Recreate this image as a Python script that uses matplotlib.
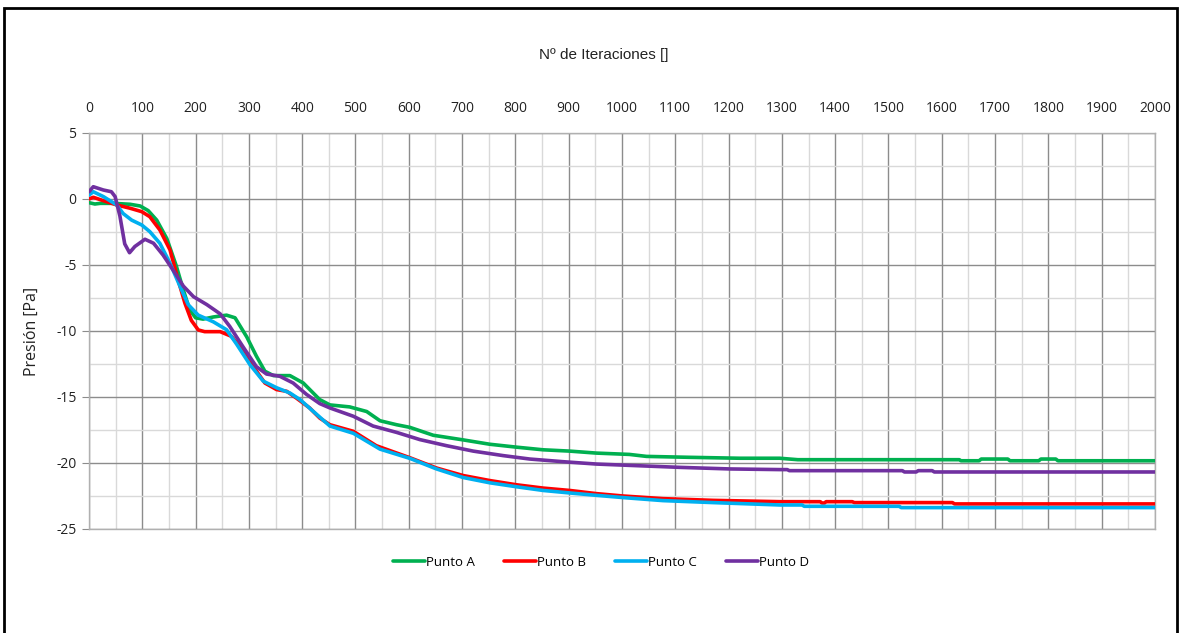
import numpy as np
import matplotlib
matplotlib.use('Agg')
import matplotlib.pyplot as plt
from matplotlib.ticker import MultipleLocator
from matplotlib.patches import Rectangle

# pressure at the four monitor points vs. iteration number
iter_a = [0, 11, 21, 46, 77, 96, 111, 127, 146, 164, 177, 189, 200, 214, 233, 258, 274,
          296, 314, 330, 346, 377, 402, 433, 452, 489, 521, 546, 577, 602, 646, 702, 752,
          802, 852, 902, 952, 1014, 1046, 1127, 1221, 1296, 1330, 1633, 1636, 1670, 1674,
          1724, 1728, 1782, 1786, 1814, 1818, 2000]
pres_a = [-0.28, -0.38, -0.33, -0.33, -0.4, -0.53, -0.88, -1.6, -3.0, -5.1, -6.9, -8.4,
          -9.0, -9.1, -8.94, -8.8, -9.0, -10.45, -11.9, -13.05, -13.38, -13.38, -13.94,
          -15.2, -15.6, -15.75, -16.1, -16.8, -17.1, -17.3, -17.9, -18.25, -18.58, -18.8,
          -19.0, -19.1, -19.25, -19.35, -19.5, -19.57, -19.64, -19.64, -19.75, -19.75,
          -19.83, -19.83, -19.7, -19.7, -19.83, -19.83, -19.7, -19.7, -19.83, -19.83]

iter_b = [0, 8, 27, 52, 77, 99, 114, 133, 152, 167, 180, 192, 205, 217, 246, 267, 283,
          308, 330, 352, 371, 389, 414, 433, 452, 496, 539, 577, 602, 652, 702, 752, 802,
          852, 902, 952, 1002, 1077, 1171, 1296, 1372, 1375, 1380, 1383, 1432, 1436, 1620,
          1624, 2000]
pres_b = [0.0, 0.13, -0.13, -0.45, -0.7, -0.96, -1.34, -2.35, -3.86, -6.1, -7.9, -9.2,
          -9.92, -10.05, -10.05, -10.4, -11.16, -12.68, -13.94, -14.44, -14.57, -15.08,
          -15.83, -16.6, -17.1, -17.6, -18.69, -19.24, -19.6, -20.38, -20.95, -21.33,
          -21.65, -21.9, -22.08, -22.32, -22.5, -22.7, -22.83, -22.93, -22.93, -23.03,
          -23.03, -22.93, -22.93, -23.0, -23.0, -23.1, -23.1]

iter_c = [0, 8, 27, 52, 64, 80, 99, 114, 133, 152, 171, 186, 205, 233, 258, 277, 302,
          327, 352, 377, 396, 421, 452, 496, 546, 602, 652, 702, 752, 802, 852, 902, 952,
          1002, 1077, 1171, 1296, 1338, 1342, 1520, 1524, 2000]
pres_c = [0.3, 0.55, 0.18, -0.45, -1.1, -1.6, -1.97, -2.47, -3.36, -4.87, -6.64, -8.0,
          -8.8, -9.3, -9.9, -11.0, -12.55, -13.8, -14.3, -14.7, -15.2, -16.1, -17.2,
          -17.75, -18.95, -19.65, -20.45, -21.1, -21.5, -21.8, -22.08, -22.27, -22.45,
          -22.62, -22.85, -23.0, -23.18, -23.18, -23.28, -23.28, -23.38, -23.38]

iter_d = [0, 8, 27, 42, 49, 58, 67, 76, 86, 105, 121, 139, 158, 177, 196, 221, 246, 264,
          289, 314, 333, 358, 383, 408, 433, 452, 496, 533, 577, 621, 671, 721, 777, 827,
          889, 952, 1014, 1108, 1202, 1296, 1310, 1314, 1526, 1530, 1552, 1556, 1582, 1586,
          2000]
pres_d = [0.55, 0.93, 0.68, 0.55, 0.18, -1.3, -3.4, -4.07, -3.6, -3.05, -3.35, -4.25,
          -5.4, -6.6, -7.4, -8.0, -8.7, -9.65, -11.2, -12.7, -13.26, -13.43, -13.94, -14.8,
          -15.5, -15.83, -16.46, -17.2, -17.68, -18.23, -18.69, -19.1, -19.44, -19.7,
          -19.9, -20.08, -20.18, -20.33, -20.45, -20.5, -20.5, -20.58, -20.58, -20.68,
          -20.68, -20.58, -20.58, -20.68, -20.68]

labels = ['Punto A', 'Punto B', 'Punto C', 'Punto D']
colors = ['#00B050', '#FF0000', '#00B0F0', '#7030A0']

fig = plt.figure(figsize=(11.79, 6.33), dpi=100)
ax = fig.add_axes([0.0755, 0.1643, 0.9041, 0.6256])

for xs, ys, lab, col in zip([iter_a, iter_b, iter_c, iter_d],
                            [pres_a, pres_b, pres_c, pres_d], labels, colors):
    ax.plot(xs, ys, color=col, lw=2.6, label=lab, solid_capstyle='round',
            solid_joinstyle='round', zorder=3)

ax.set_xlim(0, 2000)
ax.set_ylim(-25, 5)
ax.xaxis.set_major_locator(MultipleLocator(100))
ax.xaxis.set_minor_locator(MultipleLocator(50))
ax.yaxis.set_major_locator(MultipleLocator(5))
ax.yaxis.set_minor_locator(MultipleLocator(2.5))
ax.grid(which='major', color='#8c8c8c', lw=1.0, zorder=1)
ax.grid(which='minor', color='#d9d9d9', lw=1.0, zorder=0)
ax.set_axisbelow(True)

ax.xaxis.tick_top()
ax.tick_params(axis='x', which='both', length=0, pad=12, labelsize=10, labelcolor='#222222')
ax.tick_params(axis='y', which='major', length=5, color='#8c8c8c', pad=4, labelsize=10,
               labelcolor='#222222')
ax.tick_params(axis='y', which='minor', length=0)
for lbl in ax.get_xticklabels() + ax.get_yticklabels():
    lbl.set_family('Open Sans')
ax.yaxis.set_major_formatter(matplotlib.ticker.FuncFormatter(lambda v, p: '%d' % v))

for s in ax.spines.values():
    s.set_color('#b0b0b0')
    s.set_linewidth(1.0)

fig.text(0.512, 0.913, 'Nº de Iteraciones []', ha='center', va='center',
         fontsize=11, family='Liberation Sans', color='#222222')
ax.set_ylabel('Presión [Pa]', fontsize=11.5, family='Open Sans', color='#222222', labelpad=12)

leg = fig.legend(loc='center', bbox_to_anchor=(0.51, 0.112), ncol=4, frameon=False,
                 handlelength=2.4, handletextpad=0.1, columnspacing=2.2,
                 prop={'family': 'Open Sans', 'size': 9.5})

# outer chart frame
fig.patches.append(Rectangle((0.003, -0.05), 0.995, 1.037, transform=fig.transFigure,
                             fill=False, edgecolor='black', lw=2.0))

fig.savefig('out.png', dpi=100)
